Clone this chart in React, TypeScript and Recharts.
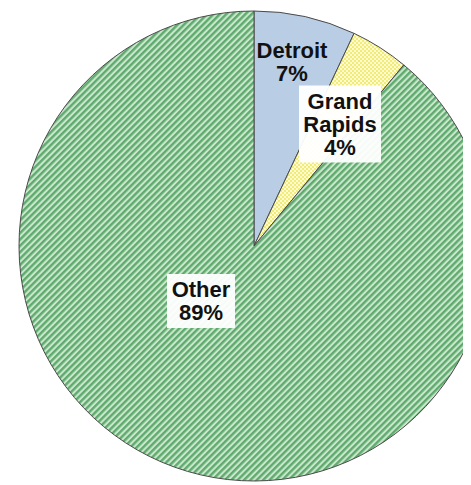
import { PieChart, Pie, Cell } from 'recharts'

// Share of total, by city
const cities = ['Detroit', 'Grand Rapids', 'Other']
const shares = [7, 4, 89]
const labelLines = [['Detroit', '7%'], ['Grand', 'Rapids', '4%'], ['Other', '89%']]

const data = cities.map((name, i) => ({ name, value: shares[i] }))

// fill per slice (patterns defined below)
const fills = ['#b9cde5', 'url(#checkYellow)', 'url(#stripeGreen)']

// where each label block sits, relative to the pie centre, and whether it gets a white box
const labelPlacement = [
  { dx: 38, dy: -184, box: false, w: 0 },
  { dx: 86, dy: -122, box: true, w: 82 },
  { dx: -53, dy: 55, box: true, w: 68 },
]

const LINE_H = 23
const FONT = 'Liberation Sans, Arial, sans-serif'

function renderLabel(props: any) {
  const { cx, cy, index } = props
  const p = labelPlacement[index]
  const lines = labelLines[index]
  const x = cx + p.dx
  const yMid = cy + p.dy
  const top = yMid - (lines.length * LINE_H) / 2
  return (
    <g key={`lbl-${index}`}>
      {p.box && (
        <rect
          x={x - p.w / 2}
          y={top - 4}
          width={p.w}
          height={lines.length * LINE_H + 8}
          fill="#ffffff"
          fillOpacity={0.95}
        />
      )}
      {lines.map((t, i) => (
        <text
          key={i}
          x={x}
          y={top + i * LINE_H + LINE_H / 2}
          textAnchor="middle"
          dominantBaseline="central"
          fontFamily={FONT}
          fontWeight="bold"
          fontSize={22}
          fill="#111111"
        >
          {t}
        </text>
      ))}
    </g>
  )
}

export default function App() {
  return (
    <div style={{ width: 463, height: 477, background: '#ffffff' }}>
      <PieChart width={463} height={477} margin={{ top: 0, right: 0, bottom: 0, left: 0 }}>
        <defs>
          <pattern
            id="stripeGreen"
            patternUnits="userSpaceOnUse"
            width={4.5}
            height={4.5}
            patternTransform="rotate(45)"
          >
            <rect x={0} y={0} width={4.5} height={4.5} fill="#c9e7cb" />
            <rect x={0} y={0} width={2.4} height={4.5} fill="#5faa6e" />
          </pattern>
          <pattern id="checkYellow" patternUnits="userSpaceOnUse" width={4} height={4}>
            <rect x={0} y={0} width={4} height={4} fill="#f2ec74" />
            <rect x={0} y={0} width={2} height={2} fill="#fcfad2" />
            <rect x={2} y={2} width={2} height={2} fill="#fcfad2" />
          </pattern>
        </defs>
        <Pie
          data={data}
          dataKey="value"
          nameKey="name"
          cx={246}
          cy={238}
          outerRadius={235}
          startAngle={90}
          endAngle={-270}
          stroke="#4a4a4a"
          strokeWidth={1}
          label={renderLabel}
          labelLine={false}
          isAnimationActive={false}
        >
          {data.map((d, i) => (
            <Cell key={d.name} fill={fills[i]} />
          ))}
        </Pie>
      </PieChart>
    </div>
  )
}
